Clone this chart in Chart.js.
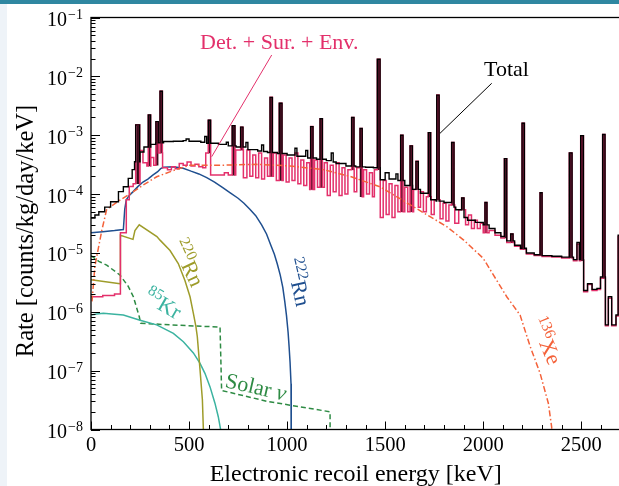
<!DOCTYPE html>
<html>
<head>
<meta charset="utf-8">
<script src="https://cdn.jsdelivr.net/npm/chart.js@4.4.1/dist/chart.umd.min.js"></script>
<style>
  html, body { margin: 0; padding: 0; width: 619px; height: 486px; overflow: hidden; background: #fff; }
  #band { position: absolute; left: 0; top: 0; width: 619px; height: 4px; background: #2f87a1; }
  #side { position: absolute; left: 0; top: 4px; width: 7px; height: 482px; background: #eef3f8; }
  canvas { position: absolute; left: 0; top: 0; }
</style>
</head>
<body>
<div id="band"></div>
<div id="side"></div>
<canvas id="chart" width="625" height="486"></canvas>
<script>
// axis ticks
const xMajor = [0, 500, 1000, 1500, 2000, 2500];
const yDecades = [-8, -7, -6, -5, -4, -3, -2, -1];

// Total: continuum as [bin start keV, rate]
const totalBase = [
  [0, 3.9e-5], [20, 4.4e-5], [40, 5.0e-5], [70, 6.0e-5], [100, 7.4e-5], [140, 1.1e-4], [165, 1.33e-4],
  [190, 1.85e-4], [210, 2.6e-4], [222, 3.55e-4], [250, 5.2e-4], [270, 6.3e-4], [305, 7.0e-4], [330, 7.4e-4],
  [370, 7.8e-4], [420, 7.9e-4], [470, 8.1e-4], [485, 8.6e-4], [500, 7.9e-4], [560, 7.6e-4], [580, 9.5e-4],
  [590, 7.3e-4], [650, 7.0e-4], [690, 7.6e-4], [700, 6.6e-4], [740, 6.3e-4], [790, 7.5e-4], [800, 5.7e-4],
  [850, 5.4e-4], [870, 6.8e-4], [880, 5.3e-4], [900, 5.1e-4], [950, 4.9e-4], [1000, 4.6e-4], [1040, 6.0e-4],
  [1050, 4.4e-4], [1095, 5.5e-4], [1105, 4.1e-4], [1150, 3.9e-4], [1200, 3.7e-4], [1225, 5.0e-4],
  [1235, 3.5e-4], [1250, 3.3e-4], [1300, 3.0e-4], [1350, 2.9e-4], [1400, 2.85e-4], [1440, 2.8e-4],
  [1475, 1.75e-4], [1500, 2.3e-4], [1520, 1.8e-4], [1555, 2.2e-4], [1565, 1.7e-4], [1600, 1.4e-4],
  [1640, 1.2e-4], [1680, 1.03e-4], [1720, 8.0e-5], [1760, 7.6e-5], [1800, 7.2e-5], [1840, 6.0e-5],
  [1860, 5.4e-5], [1900, 4.0e-5], [1920, 3.6e-5], [1960, 3.3e-5], [2000, 3.0e-5], [2030, 2.6e-5],
  [2060, 2.2e-5], [2090, 1.9e-5], [2120, 1.6e-5], [2160, 1.35e-5], [2190, 1.2e-5], [2220, 1.0e-5],
  [2260, 9.3e-6], [2300, 9.0e-6], [2350, 8.8e-6], [2400, 8.5e-6], [2460, 7.7e-6], [2478, 1.5e-5],
  [2490, 7.7e-6], [2512, 2.3e-6], [2532, 3.0e-6], [2555, 2.4e-6], [2580, 2.5e-6], [2598, 3.9e-6],
  [2623, 6.0e-7], [2638, 1.8e-6], [2655, 6.0e-7], [2677, 8.8e-7], [2688, 2.0e-5], [2700, 2.0e-5]
];

// Det. + Sur. + Env.: continuum as [bin start keV, rate]
const detBase = [
  [0, 1.8e-6], [60, 1.9e-6], [120, 2.0e-6], [150, 2.2e-5], [180, 8.0e-5], [195, 1.35e-4], [215, 1.5e-4],
  [250, 5.5e-4], [265, 3.4e-4], [285, 3.0e-4], [305, 4.2e-4], [320, 3.1e-4], [343, 5.0e-4], [365, 2.8e-4],
  [390, 2.6e-4], [410, 2.9e-4], [430, 2.7e-4], [450, 3.3e-4], [470, 3.1e-4], [490, 3.5e-4], [510, 3.0e-4],
  [530, 3.2e-4], [550, 2.9e-4], [570, 2.8e-4], [585, 5.0e-4], [610, 2.1e-4], [680, 2.3e-4], [700, 2.1e-4],
  [738, 5.6e-4], [777, 1.9e-4], [795, 5.6e-4], [810, 2.0e-4], [825, 4.6e-4], [840, 1.9e-4], [855, 5.0e-4],
  [870, 1.8e-4], [885, 4.1e-4], [900, 2.0e-4], [930, 5.0e-4], [945, 1.7e-4], [980, 4.6e-4], [995, 1.6e-4],
  [1010, 4.1e-4], [1025, 1.7e-4], [1040, 5.0e-4], [1055, 1.5e-4], [1070, 3.8e-4], [1085, 1.4e-4],
  [1100, 3.4e-4], [1115, 1.2e-4], [1140, 3.8e-4], [1155, 1.3e-4], [1190, 3.4e-4], [1205, 9.5e-5],
  [1220, 3.1e-4], [1235, 1.1e-4], [1250, 3.4e-4], [1265, 9.5e-5], [1280, 2.8e-4], [1295, 1.0e-4],
  [1310, 2.6e-4], [1342, 1.1e-4], [1355, 2.8e-4], [1372, 9.0e-5], [1390, 2.6e-4], [1405, 1.0e-4],
  [1420, 2.3e-4], [1435, 9.0e-5], [1445, 2.6e-4], [1475, 4.0e-5], [1490, 1.7e-4], [1505, 4.5e-5],
  [1520, 1.5e-4], [1535, 4.0e-5], [1550, 1.4e-4], [1565, 5.0e-5], [1600, 1.3e-4], [1615, 5.0e-5],
  [1645, 1.2e-4], [1660, 6.0e-5], [1680, 1.1e-4], [1695, 5.0e-5], [1710, 9.0e-5], [1735, 4.5e-5],
  [1750, 8.0e-5], [1780, 3.8e-5], [1795, 7.0e-5], [1810, 3.5e-5], [1825, 6.5e-5], [1855, 3.2e-5],
  [1875, 5.4e-5], [1910, 3.0e-5], [1925, 4.4e-5], [1940, 2.6e-5], [1955, 3.6e-5], [1970, 2.6e-5],
  [1985, 3.2e-5], [2000, 2.2e-5], [2030, 2.4e-5], [2060, 2.0e-5], [2090, 1.8e-5], [2120, 1.5e-5],
  [2160, 1.3e-5], [2190, 1.15e-5], [2220, 9.6e-6], [2260, 9.0e-6], [2300, 8.7e-6], [2350, 8.5e-6],
  [2400, 8.2e-6], [2460, 7.4e-6], [2478, 1.4e-5], [2490, 7.4e-6], [2512, 2.2e-6], [2532, 2.9e-6],
  [2555, 2.3e-6], [2580, 2.4e-6], [2598, 3.7e-6], [2623, 5.8e-7], [2638, 1.7e-6], [2655, 5.8e-7],
  [2677, 8.5e-7], [2688, 1.9e-5], [2700, 1.9e-5]
];

// gamma lines shared by both histograms
const peakE   = [228, 292, 331, 352, 598, 720, 763, 913, 960, 1120, 1168, 1329, 1372, 1460, 1579, 1627, 1657,
                 1720, 1763, 1839, 1890, 2009, 2108, 2140, 2198, 2290, 2439, 2497, 2609];
const peakW   = [20, 12, 12, 12, 12, 14, 12, 12, 14, 12, 12, 12, 11, 14, 12, 12, 12, 12, 12, 12, 12, 10, 12, 12,
                 12, 10, 14, 14, 12];
const peakTop = [1.5e-3, 2.2e-3, 1.7e-3, 5.6e-3, 1.8e-3, 1.45e-3, 1.37e-3, 4.4e-3, 3.5e-3, 1.4e-3, 1.9e-3,
                 2.0e-3, 1.3e-3, 1.95e-2, 1.0e-3, 6.6e-4, 3.6e-4, 1.1e-3, 4.8e-3, 7.5e-4, 8.6e-5, 7.2e-5,
                 4.0e-4, 2.1e-5, 1.6e-3, 1.05e-4, 5.0e-4, 9.8e-4, 1.03e-3];

// smooth components [keV, rate]
const rn222 = [
  [0, 2.2e-5], [60, 2.3e-5], [120, 2.4e-5], [165, 2.5e-5], [172, 5.5e-5], [180, 8.0e-5], [195, 9.5e-5],
  [215, 1.1e-4], [240, 1.35e-4], [265, 1.6e-4], [290, 1.8e-4], [315, 2.1e-4], [340, 2.4e-4], [355, 2.7e-4],
  [370, 2.85e-4], [420, 2.9e-4], [470, 2.75e-4], [510, 2.45e-4], [550, 2.2e-4], [590, 1.9e-4], [630, 1.6e-4],
  [670, 1.3e-4], [710, 1.05e-4], [750, 8.5e-5], [780, 7.0e-5], [810, 5.5e-5], [840, 4.3e-5], [870, 3.0e-5],
  [895, 2.1e-5], [915, 1.4e-5], [935, 9.5e-6], [950, 6.5e-6], [965, 4.2e-6], [978, 2.6e-6], [988, 1.5e-6],
  [997, 8.5e-7], [1005, 4.5e-7], [1010, 2.6e-7], [1015, 1.4e-7], [1020, 6.0e-8], [1021, 1e-9]
];
const rn220 = [
  [0, 3.5e-6], [148, 3.0e-6], [150, 2.0e-5], [214, 1.7e-5], [224, 2.4e-5], [246, 3.0e-5], [336, 1.9e-5],
  [352, 1.65e-5], [403, 1.1e-5], [445, 6.6e-6], [479, 3.4e-6], [505, 1.8e-6], [522, 9.4e-7], [535, 5.6e-7],
  [542, 3.8e-7], [556, 1.03e-7], [568, 3.2e-8], [573, 1e-8], [575, 1e-9]
];
const kr85 = [
  [0, 8.8e-7], [30, 9.2e-7], [63, 9.4e-7], [120, 9.1e-7], [165, 8.8e-7], [250, 7.2e-7], [335, 6.0e-7],
  [420, 4.3e-7], [471, 3.1e-7], [522, 2.0e-7], [556, 1.33e-7], [581, 9.0e-8], [607, 5.3e-8], [632, 2.8e-8],
  [649, 1.65e-8], [661, 1e-8], [664, 1e-9]
];
const solarNu = [
  [0, 9.0e-6], [40, 7.2e-6], [80, 6.2e-6], [148, 4.2e-6], [190, 2.7e-6], [216, 1.8e-6], [246, 8.3e-7],
  [253, 6.4e-7], [400, 6.0e-7], [658, 5.5e-7], [666, 4.6e-8], [900, 3.0e-8], [1219, 2.0e-8], [1220, 1e-9]
];
const xe136 = [
  [5, 1.5e-6], [20, 6.0e-6], [55, 2.4e-5], [80, 5.5e-5], [148, 7.9e-5], [216, 1.1e-4], [267, 1.43e-4],
  [335, 1.97e-4], [437, 2.63e-4], [505, 3.1e-4], [675, 3.1e-4], [845, 3.2e-4], [1015, 3.0e-4], [1185, 2.6e-4],
  [1320, 2.0e-4], [1474, 1.33e-4], [1644, 6.1e-5], [1814, 2.8e-5], [1899, 1.67e-5], [2000, 8.1e-6],
  [2120, 1.8e-6], [2188, 8.8e-7], [2239, 2.6e-7], [2290, 9.0e-8], [2332, 2.8e-8], [2349, 1.1e-8], [2355, 1e-9]
];

const C = {
  total: '#000000', det: '#e3306b', rn222: '#1f4f8f', rn220: '#9e9c2a', kr: '#3bb3a0',
  solar: '#2e8b44', xe: '#f4623a', peak: '#3a0c1c'
};

function valueAt(base, e) {
  let v = base[0][1];
  for (const [x, y] of base) { if (x <= e) v = y; else break; }
  return v;
}
function withPeaks(base) {
  const pts = base.map(([x, y]) => ({ x, y }));
  peakE.forEach((e, i) => {
    const e2 = e + peakW[i];
    const after = valueAt(base, e2);
    for (let k = pts.length - 1; k >= 0; k--) if (pts[k].x >= e && pts[k].x <= e2) pts.splice(k, 1);
    pts.push({ x: e, y: peakTop[i] }, { x: e2, y: after });
  });
  return pts.sort((a, b) => a.x - b.x);
}
const xy = arr => arr.map(([x, y]) => ({ x, y }));

const line = (label, data, color, extra) => Object.assign({
  type: 'line', label, data, borderColor: color, backgroundColor: color, borderWidth: 1.5,
  pointRadius: 0, fill: false, tension: 0
}, extra);

const SERIF = '"Liberation Serif", "DejaVu Serif", serif';

function isoLabel(ctx, x, y, ang, mass, sym, color, size) {
  ctx.save();
  ctx.translate(x, y);
  ctx.rotate(ang * Math.PI / 180);
  ctx.fillStyle = color;
  ctx.textBaseline = 'alphabetic';
  ctx.textAlign = 'left';
  ctx.font = `${size * 0.7}px ${SERIF}`;
  const w1 = ctx.measureText(mass).width;
  ctx.font = `${size}px ${SERIF}`;
  const w2 = ctx.measureText(sym).width;
  const x0 = -(w1 + w2) / 2;
  ctx.font = `${size * 0.7}px ${SERIF}`;
  ctx.fillText(mass, x0, size * 0.33 - size * 0.4);
  ctx.font = `${size}px ${SERIF}`;
  ctx.fillText(sym, x0 + w1, size * 0.33);
  ctx.restore();
}

const decor = {
  id: 'decor',
  afterDatasetsDraw(chart) {
    const { ctx, chartArea: a, scales: { x, y } } = chart;
    ctx.save();
    ctx.strokeStyle = '#000';
    ctx.lineWidth = 1.3;
    ctx.strokeRect(a.left, a.top, a.right - a.left, a.bottom - a.top);
    ctx.lineWidth = 1;
    ctx.beginPath();
    for (let e = 0; e <= 2700; e += 100) {
      const px = Math.round(x.getPixelForValue(e)) + 0.5;
      const len = xMajor.includes(e) ? 8 : 4.5;
      ctx.moveTo(px, a.bottom); ctx.lineTo(px, a.bottom - len);
    }
    yDecades.forEach(d => {
      for (let m = 1; m <= 9; m++) {
        if (d === -1 && m > 1) break;
        const py = Math.round(y.getPixelForValue(m * Math.pow(10, d))) + 0.5;
        const len = m === 1 ? 9 : 4.5;
        ctx.moveTo(a.left, py); ctx.lineTo(a.left + len, py);
      }
    });
    ctx.stroke();

    // tick labels
    ctx.fillStyle = '#000';
    ctx.textAlign = 'center';
    ctx.textBaseline = 'alphabetic';
    ctx.font = `20.5px ${SERIF}`;
    xMajor.forEach(e => ctx.fillText(String(e), x.getPixelForValue(e), 451));
    yDecades.forEach(d => {
      const py = y.getPixelForValue(Math.pow(10, d));
      ctx.textAlign = 'right';
      ctx.font = `14px ${SERIF}`;
      const exp = '\u2212' + String(-d);
      const we = ctx.measureText(exp).width;
      ctx.fillText(exp, 83, py + 1);
      ctx.font = `20px ${SERIF}`;
      ctx.fillText('10', 83 - we - 1, py + 8.5);
    });

    // axis titles
    ctx.textAlign = 'center';
    ctx.font = `24px ${SERIF}`;
    ctx.fillText('Electronic recoil energy [keV]', (a.left + 620.5) / 2, 481);
    ctx.save();
    ctx.translate(32.5, 231);
    ctx.rotate(-Math.PI / 2);
    ctx.font = `24.5px ${SERIF}`;
    ctx.fillText('Rate [counts/kg/day/keV]', 0, 0);
    ctx.restore();

    // annotations
    ctx.font = `22px ${SERIF}`;
    ctx.textAlign = 'left';
    ctx.fillStyle = C.det;
    ctx.fillText('Det. + Sur. + Env.', 200, 48.5);
    ctx.strokeStyle = C.det;
    ctx.lineWidth = 1;
    ctx.beginPath(); ctx.moveTo(271.7, 55); ctx.lineTo(211.7, 156.7); ctx.stroke();
    ctx.fillStyle = '#000';
    ctx.fillText('Total', 484, 76);
    ctx.strokeStyle = '#000';
    ctx.beginPath(); ctx.moveTo(491.7, 83.3); ctx.lineTo(440, 133.3); ctx.stroke();

    isoLabel(ctx, 188, 263, 65, '220', 'Rn', C.rn220, 22);
    isoLabel(ctx, 298, 282, 77, '222', 'Rn', C.rn222, 22);
    isoLabel(ctx, 163, 304, 30, '85', 'Kr', C.kr, 22);
    isoLabel(ctx, 546, 341, 67, '136', 'Xe', C.xe, 22);

    ctx.save();
    ctx.translate(256, 387);
    ctx.rotate(13 * Math.PI / 180);
    ctx.fillStyle = C.solar;
    ctx.textAlign = 'left';
    ctx.font = `22px ${SERIF}`;
    const ws = ctx.measureText('Solar ').width;
    ctx.font = `italic 22px ${SERIF}`;
    const wn = ctx.measureText('\u03bd').width;
    ctx.font = `22px ${SERIF}`;
    ctx.fillText('Solar ', -(ws + wn) / 2, 7);
    ctx.font = `italic 22px ${SERIF}`;
    ctx.fillText('\u03bd', -(ws + wn) / 2 + ws, 7);
    ctx.restore();

    ctx.restore();
  }
};

const peakBars = peakE.map((e, i) => ({ x: e + peakW[i] / 2, y: [valueAt(detBase, e), peakTop[i]] }));

new Chart(document.getElementById('chart'), {
  type: 'line',
  data: {
    datasets: [
      line('Total', withPeaks(totalBase), C.total, { stepped: 'before', order: 0, borderWidth: 1.4 }),
      line('136Xe', xy(xe136), C.xe, { borderDash: [6, 2.5, 1.5, 2.5], order: 1 }),
      line('Det. + Sur. + Env.', withPeaks(detBase), C.det, { stepped: 'before', order: 2 }),
      { type: 'bar', label: 'lines', data: peakBars, backgroundColor: C.peak, borderWidth: 0,
        barThickness: 2, grouped: false, order: 3 },
      line('222Rn', xy(rn222), C.rn222, { order: 4 }),
      line('220Rn', xy(rn220), C.rn220, { order: 5 }),
      line('85Kr', xy(kr85), C.kr, { order: 6 }),
      line('Solar nu', xy(solarNu), C.solar, { borderDash: [5, 3], order: 7 })
    ]
  },
  options: {
    responsive: false,
    devicePixelRatio: 1,
    animation: false,
    layout: { padding: { left: 91, top: 17.5, right: 4.5, bottom: 56.5 } },
    plugins: { legend: { display: false }, tooltip: { enabled: false } },
    scales: {
      x: { type: 'linear', min: 0, max: 2700, offset: false, display: false },
      y: { type: 'logarithmic', min: 1e-8, max: 1e-1, display: false }
    }
  },
  plugins: [decor]
});
</script>
</body>
</html>
